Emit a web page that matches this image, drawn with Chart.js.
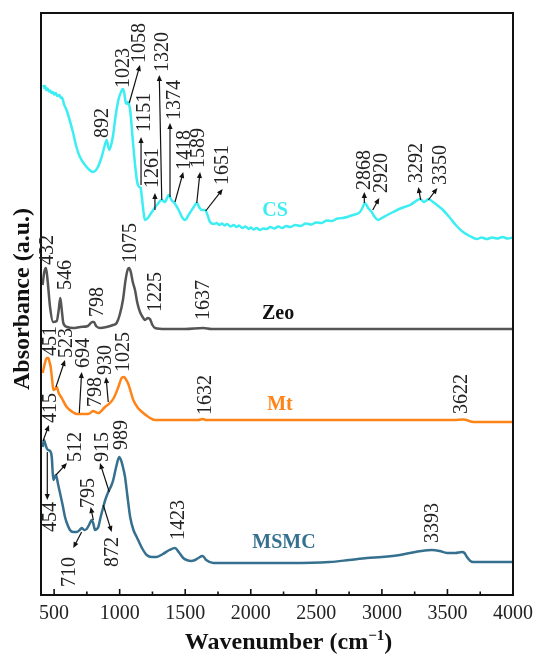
<!DOCTYPE html>
<html>
<head>
<meta charset="utf-8">
<script src="https://cdn.jsdelivr.net/npm/chart.js@4/dist/chart.umd.min.js"></script>
<style>
  html, body { margin: 0; padding: 0; background: #fff; }
  #wrap { width: 536px; height: 654px; }
</style>
</head>
<body>
<div id="wrap"><canvas id="c" width="536" height="654"></canvas></div>
<script>
// FTIR spectra, stacked with vertical offsets (absorbance in arbitrary units)
const csWave = [418,425,432,440,450,460,470,480,490,500,512,525,540,552,560,575,600,645,670,697,730,770,797,830,860,885,901,912,920,935,950,970,990,1010,1023,1035,1045,1053,1062,1080,1100,1120,1135,1150,1160,1170,1185,1193,1215,1240,1261,1290,1320,1345,1374,1395,1418,1450,1480,1498,1530,1560,1589,1610,1625,1651,1670,1689,1720,1740,1760,1780,1800,1820,1845,1870,1890,1910,1935,1960,1985,2000,2020,2045,2070,2095,2120,2150,2180,2210,2240,2270,2300,2340,2380,2420,2460,2500,2540,2580,2620,2660,2700,2780,2833,2855,2871,2895,2922,2945,2971,3000,3040,3085,3150,3215,3260,3292,3320,3335,3355,3390,3430,3466,3520,3570,3619,3670,3725,3760,3800,3840,3880,3920,3960,4000];
const csAbs  = [510,507,509,505,506.5,503.5,504.5,502,503,500.5,502,499,500,497,497.5,491,483,462,448,438,431,425,423,427,437,449,455,449,445,450,460,480,495,503,506,502,493,491,493,485,455,427,412,408,407,397,380,375,377,382,386,391,395,393,400,395,392,385,377,375,381,387,392,387,385,385,380,373,371,372,370,371.5,369.5,371,368.5,370,368,369.5,367,368.5,366,367.5,365.5,367,365,366.5,366,368,366.5,368.5,367,369,368,370,369,371.5,370.5,372.5,372,374.5,374,376.5,377,380,383,388,392,387,383,378,375,377,380,383,387,390,394,396,393,394,396,393,389,385,377,369,363,359,356,357.5,356,357.5,356.5,358,356.5,357.5];

const zeoWave = [412,425,438,450,469,492,520,535,547,560,570,600,645,700,758,790,804,820,850,900,950,977,1000,1025,1045,1060,1071,1085,1100,1117,1135,1155,1180,1193,1215,1231,1250,1270,1350,1500,1637,1700,2000,3000,4000];
const zeoAbs  = [310,323,327,315,288,273,274,285,297,283,272,268,267,268,269,273,273,269,267,268,270,272,280,295,315,325,327,323,313,305,292,283,277,275,277,276,270,267,266,266,267,266,266,266,266];

const mtWave = [413,430,445,456,465,474,485,494,507,520,535,558,596,640,672,720,761,785,799,815,837,860,888,926,955,990,1015,1035,1050,1066,1085,1104,1140,1180,1220,1270,1400,1600,1632,1660,2000,3000,3550,3622,3700,4000];
const mtAbs  = [222,232,237,237,233,228,215,205,206,208,202,197,188,183,181,181,181,183,184,183,182,184,188,192,197,208,217,218,215,211,203,195,187,182,178,175,175,175,176,175,175,175,175,175.5,173,173];

const msmcWave = [413,423,433,443,454,470,482,494,505,514,530,545,565,583,600,621,645,672,695,710,730,748,770,787,800,812,825,837,855,875,890,913,935,951,975,997,1015,1030,1041,1060,1080,1105,1130,1170,1206,1245,1282,1330,1380,1422,1450,1485,1511,1545,1575,1600,1633,1660,1714,1800,2000,2300,2600,2750,2886,3000,3138,3215,3300,3382,3440,3497,3560,3611,3630,3649,3675,3695,3800,4000];
const msmcAbs  = [148,155,151,147,145,144,138,115,118,120,111,102,90,78,71,65,63,63,65,67,65,66,71,75,71,65,66,68,78,88,95,103,109,115,129,138,133,125,118,98,78,65,58,47,40,38,38,41,45,47,43,37,35,34,35,37,39,35,32,32,32,32,33,35,37,38,40,42,44,45,44,42,42,43,42,38,34,33,33,33];

const seriesNames  = ['CS', 'Zeo', 'Mt', 'MSMC'];
const seriesColors = ['#3CEEF2', '#555555', '#FF8418', '#35708F'];
const nameColors   = ['#3CEEF2', '#111111', '#FF8418', '#35708F'];
// where each series name sits (wavenumber, absorbance)
const nameWave = [2185, 2208, 2223, 2253];
const nameAbs  = [384, 281, 190, 52];

const xTicks      = [500, 1000, 1500, 2000, 2500, 3000, 3500, 4000];
const xMinorTicks = [750, 1250, 1750, 2250, 2750, 3250, 3750];

// peak assignments: label text, anchor (wavenumber, absorbance) of the label's start,
// optional arrow from the band to the label
const peakText = ['892','1023','1058','1151','1261','1320','1374','1418','1589','1651','2868','2920','3292','3350',
                  '432','546','798','1075','1225','1637',
                  '451','523','694','798','930','1025','1632','3622',
                  '415','454','512','795','710','915','872','989','1423','3393'];
const peakWave = [863,1022,1147,1186,1244,1323,1414,1491,1597,1780,2864,2993,3260,3443,
                  446,579,827,1079,1269,1636,
                  469,591,720,812,888,1025,1649,3603,
                  469,469,659,758,610,865,942,1010,1441,3382];
const peakAbs  = [457,507,532,463,407,523,475,425,427,410,405,402,412,410,
                  330,305,278,332,283,275,
                  239,237,227,188,220,223,180,181,
                  172,63,133,87,8,133,28,145,55,52];
// arrows: [band wavenumber, band absorbance, tip wavenumber, tip absorbance] or null
const peakArrow = [null,null,[1073,492,1155,530],[1163,410,1163,458],[1269,385,1269,402],[1321,395,1302,520],[1384,398,1384,472],[1422,393,1485,423],[1588,392,1613,423],[1656,384,1786,406],[2866,392,2866,403],[2930,385,2980,397],[3296,395,3278,408],[3354,395,3423,407],
                   null,null,null,null,null,null,
                   null,[514,208,583,235],[692,182,710,223],null,[913,193,896,218],null,null,null,
                   [415,154,461,170],[448,143,448,95],[514,120,598,132],[799,75,779,88],[710,63,646,47],[921,103,850,132],[875,90,939,63],null,null,null];

const serif = "'Liberation Serif', 'Times New Roman', serif";

function toPoints(w, a) { return w.map((v, i) => ({ x: v, y: a[i] })); }

const spectra = [
  toPoints(csWave, csAbs),
  toPoints(zeoWave, zeoAbs),
  toPoints(mtWave, mtAbs),
  toPoints(msmcWave, msmcAbs)
];

function arrow(ctx, x1, y1, x2, y2) {
  const ang = Math.atan2(y2 - y1, x2 - x1);
  const L = 6, W = 2.6;
  ctx.beginPath();
  ctx.moveTo(x1, y1);
  ctx.lineTo(x2 - Math.cos(ang) * L * 0.8, y2 - Math.sin(ang) * L * 0.8);
  ctx.stroke();
  ctx.beginPath();
  ctx.moveTo(x2, y2);
  ctx.lineTo(x2 - Math.cos(ang) * L + Math.sin(ang) * W, y2 - Math.sin(ang) * L - Math.cos(ang) * W);
  ctx.lineTo(x2 - Math.cos(ang) * L - Math.sin(ang) * W, y2 - Math.sin(ang) * L + Math.cos(ang) * W);
  ctx.closePath();
  ctx.fill();
}

const decorations = {
  id: 'decorations',
  afterDatasetsDraw(chart) {
    const { ctx, chartArea: a, scales: { x, y } } = chart;
    ctx.save();

    // frame
    ctx.strokeStyle = '#111';
    ctx.lineWidth = 2;
    ctx.strokeRect(a.left, a.top, a.right - a.left, a.bottom - a.top);

    // inward ticks on the wavenumber axis
    ctx.lineWidth = 1.6;
    ctx.beginPath();
    xTicks.forEach(v => { const p = x.getPixelForValue(v); ctx.moveTo(p, a.bottom); ctx.lineTo(p, a.bottom - 6); });
    xMinorTicks.forEach(v => { const p = x.getPixelForValue(v); ctx.moveTo(p, a.bottom); ctx.lineTo(p, a.bottom - 3.5); });
    ctx.stroke();

    // arrows
    ctx.strokeStyle = '#111';
    ctx.fillStyle = '#111';
    ctx.lineWidth = 1.2;
    peakArrow.forEach(ar => {
      if (!ar) return;
      arrow(ctx, x.getPixelForValue(ar[0]), y.getPixelForValue(ar[1]),
                 x.getPixelForValue(ar[2]), y.getPixelForValue(ar[3]));
    });

    // peak labels, rotated
    ctx.fillStyle = '#222';
    ctx.font = '20px ' + serif;
    ctx.textAlign = 'left';
    ctx.textBaseline = 'middle';
    peakText.forEach((t, i) => {
      ctx.save();
      ctx.translate(x.getPixelForValue(peakWave[i]), y.getPixelForValue(peakAbs[i]));
      ctx.rotate(-Math.PI / 2);
      ctx.fillText(t, 0, 1);
      ctx.restore();
    });

    // series names
    ctx.font = 'bold 20px ' + serif;
    ctx.textAlign = 'center';
    seriesNames.forEach((n, i) => {
      ctx.fillStyle = nameColors[i];
      ctx.fillText(n, x.getPixelForValue(nameWave[i]), y.getPixelForValue(nameAbs[i]));
    });

    // axis titles
    ctx.fillStyle = '#111';
    ctx.textBaseline = 'alphabetic';
    const big = 'bold 24px ' + serif, small = 'bold 15px ' + serif;
    const parts = [['Wavenumber (cm', big, 0], ['\u22121', small, -9], [')', big, 0]];
    let total = 0;
    parts.forEach(p => { ctx.font = p[1]; total += ctx.measureText(p[0]).width; });
    let cx = 288.5 - total / 2;
    ctx.textAlign = 'left';
    parts.forEach(p => { ctx.font = p[1]; ctx.fillText(p[0], cx, 649 + p[2]); cx += ctx.measureText(p[0]).width; });

    ctx.save();
    ctx.translate(29, (a.top + a.bottom) / 2 - 5);
    ctx.rotate(-Math.PI / 2);
    ctx.font = big;
    ctx.textAlign = 'center';
    ctx.fillText('Absorbance (a.u.)', 0, 0);
    ctx.restore();

    ctx.restore();
  }
};

new Chart(document.getElementById('c'), {
  type: 'line',
  data: {
    datasets: spectra.map((d, i) => ({
      label: seriesNames[i],
      data: d,
      borderColor: seriesColors[i],
      borderWidth: 2.5,
      pointRadius: 0,
      fill: false,
      cubicInterpolationMode: 'monotone'
    }))
  },
  options: {
    responsive: false,
    devicePixelRatio: 1,
    animation: false,
    layout: { padding: { left: 41, right: 23, top: 13, bottom: 0 } },
    plugins: { legend: { display: false }, tooltip: { enabled: false } },
    scales: {
      x: {
        type: 'linear',
        min: 400,
        max: 4000,
        afterBuildTicks: s => { s.ticks = xTicks.map(v => ({ value: v })); },
        afterFit: s => { s.height = 59; s.paddingRight = 0; s.paddingLeft = 0; },
        grid: { display: false, drawTicks: false },
        border: { display: false },
        ticks: {
          color: '#222',
          font: { family: serif, size: 20 },
          padding: 7,
          maxRotation: 0,
          autoSkip: false,
          callback: v => String(v)
        }
      },
      y: { display: false, min: 0, max: 582 }
    }
  },
  plugins: [decorations]
});
</script>
</body>
</html>
